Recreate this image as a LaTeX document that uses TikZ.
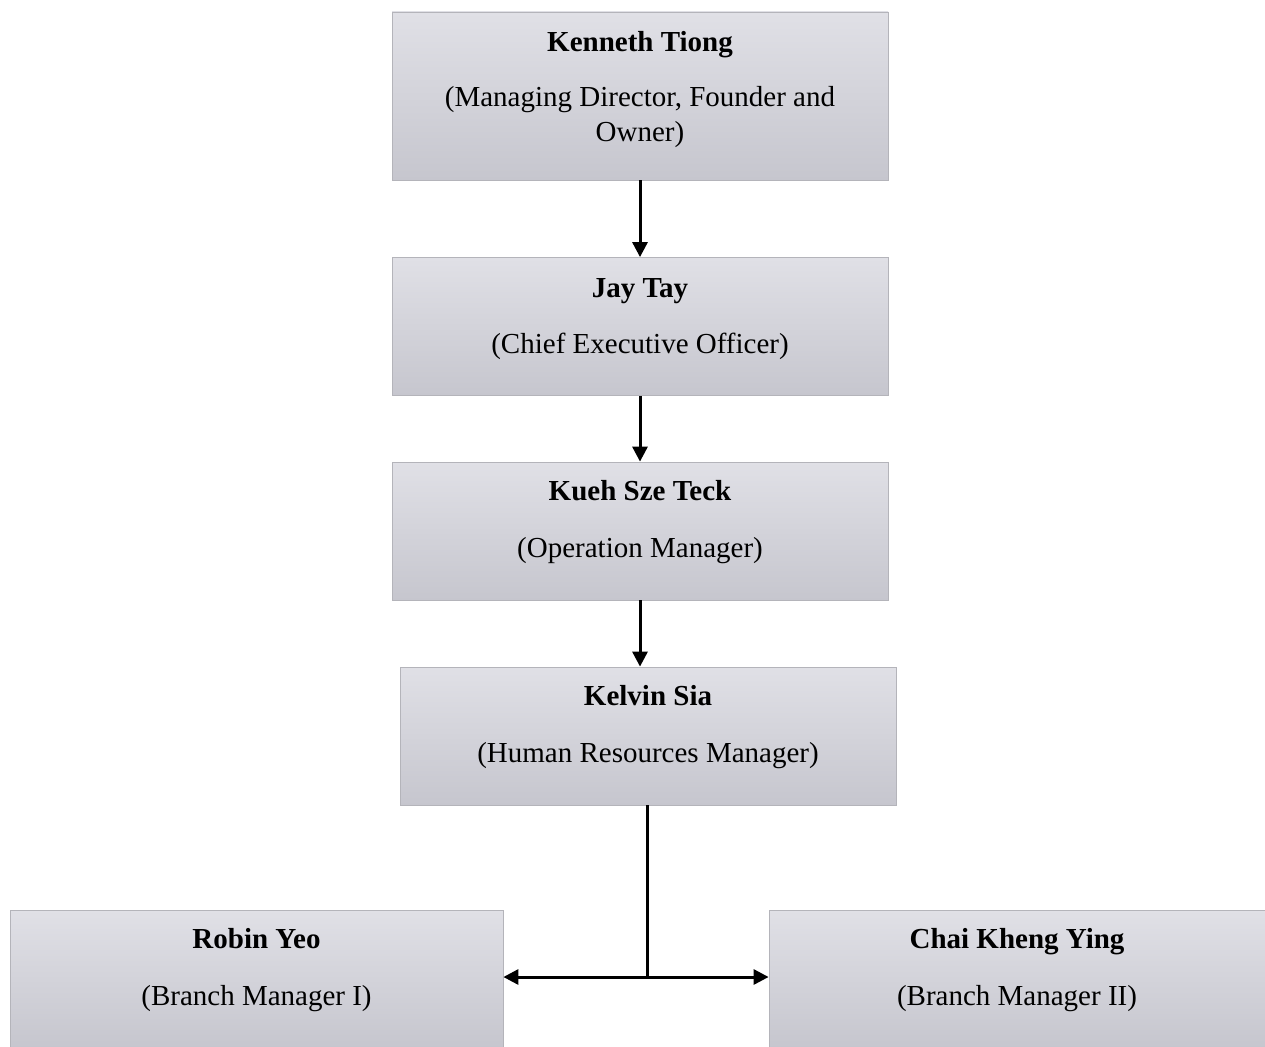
\documentclass[tikz,border=0pt]{standalone}
\usepackage{fontspec}
\setmainfont{Liberation Serif}
\usetikzlibrary{arrows.meta}
\definecolor{cajaarriba}{RGB}{224,224,230}
\definecolor{cajaabajo}{RGB}{198,198,206}
\definecolor{borde}{RGB}{180,180,186}

\begin{document}
\begin{tikzpicture}[x=1pt,y=-1pt,
        caja/.style={draw=borde, line width=0.8pt, top color=cajaarriba, bottom color=cajaabajo,
            minimum width=496pt, minimum height=138pt, inner sep=0pt},
        texto/.style={align=center, anchor=base, font=\fontsize{29}{35}\selectfont},
        flecha/.style={line width=3pt, -{Triangle[length=15pt,width=15pt]}}]
        \useasboundingbox (0,0) rectangle (1265,1046);

        % Cajas
        \node[caja, minimum height=168pt] (md) at (640,96) {};
        \node[caja] (ceo) at (640,326.5) {};
        \node[caja] (om) at (640,531) {};
        \node[caja] (hr) at (648,736) {};
        \node[caja, minimum width=493pt] (bm1) at (256.5,979) {};
        \node[caja] (bm2) at (1017,979) {};

        % Textos
        \node[texto] (md-n) at ([yshift=-40pt]md.north) {\textbf{Kenneth Tiong}};
        \node[texto, anchor=center] (md-c) at ([yshift=-105pt]md.north) {(Managing Director, Founder and\\Owner)};
        \node[texto] (ceo-n) at ([yshift=-40pt]ceo.north) {\textbf{Jay Tay}};
        \node[texto] (ceo-c) at ([yshift=-96pt]ceo.north) {(Chief Executive Officer)};
        \node[texto] (om-n) at ([yshift=-39pt]om.north) {\textbf{Kueh Sze Teck}};
        \node[texto] (om-c) at ([yshift=-96pt]om.north) {(Operation Manager)};
        \node[texto] (hr-n) at ([yshift=-39pt]hr.north) {\textbf{Kelvin Sia}};
        \node[texto] (hr-c) at ([yshift=-96pt]hr.north) {(Human Resources Manager)};
        \node[texto] (bm1-n) at ([yshift=-39pt]bm1.north) {\textbf{Robin Yeo}};
        \node[texto] (bm1-c) at ([yshift=-96pt]bm1.north) {(Branch Manager I)};
        \node[texto] (bm2-n) at ([yshift=-39pt]bm2.north) {\textbf{Chai Kheng Ying}};
        \node[texto] (bm2-c) at ([yshift=-96pt]bm2.north) {(Branch Manager II)};

        % Conectores
        \draw[flecha] (md.south) -- (ceo.north);
        \draw[flecha] (ceo.south) -- (om.north);
        \draw[flecha] (om.south) -- (om.south |- hr.north);
        \coordinate (rama) at ([xshift=-1pt]hr.south |- 0,977);
        \draw[line width=3pt] ([xshift=-1pt]hr.south) -- (rama);
        \draw[flecha] (rama) -- (bm1.east |- rama);
        \draw[flecha] (rama) -- (bm2.west |- rama);
    \end{tikzpicture}
\end{document}
